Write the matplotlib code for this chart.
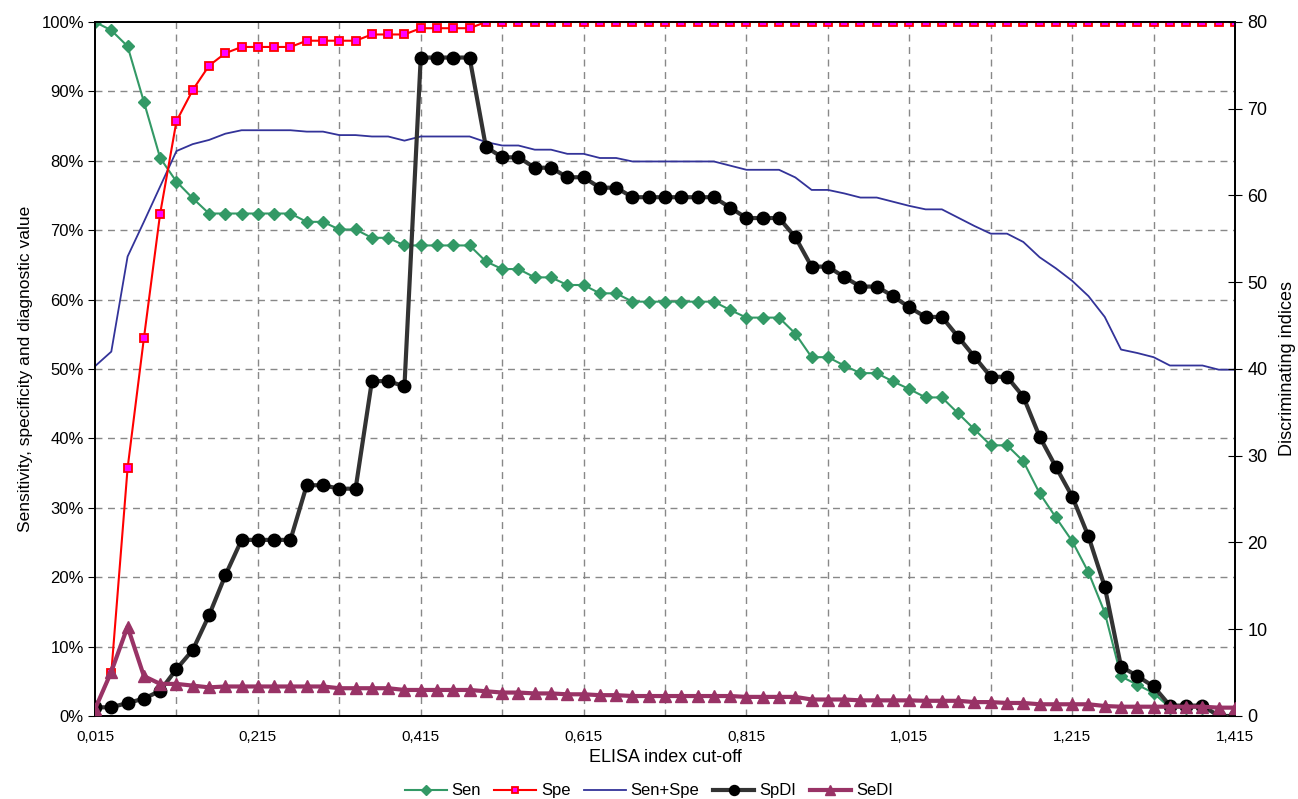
import numpy as np
import matplotlib
matplotlib.use("Agg")
import matplotlib.pyplot as plt
from matplotlib.ticker import FixedLocator, FuncFormatter

plt.rcParams['font.family'] = ['Liberation Sans', 'DejaVu Sans']

# cut-off values 0,015 ... 1,415 step 0,02
cutoffs = np.round(np.arange(0.015, 1.4151, 0.02), 3)

sen = [100, 98.8, 96.5, 88.5, 80.4, 77.0, 74.6,
       72.4, 72.4, 72.4, 72.4, 72.4, 72.4, 71.2, 71.2, 70.1, 70.1,
       68.9, 68.9, 67.8, 67.8, 67.8, 67.8, 67.8, 65.5, 64.4, 64.4,
       63.2, 63.2, 62.1, 62.1, 60.9, 60.9, 59.7, 59.7, 59.7, 59.7,
       59.7, 59.7, 58.5, 57.4, 57.4, 57.4, 55.1, 51.7, 51.7, 50.5,
       49.4, 49.4, 48.2, 47.1, 45.9, 45.9, 43.6, 41.3, 39.0, 39.0,
       36.7, 32.1, 28.6, 25.2, 20.7, 14.9, 5.7, 4.5, 3.3, 1.2, 1.2,
       1.2, 0, 0]
spe = [0.9, 6.2, 35.7, 54.4, 72.4, 85.7, 90.2, 93.7, 95.5,
       96.4, 96.4, 96.4, 96.4, 97.3, 97.3, 97.3, 97.3, 98.2, 98.2, 98.2,
       99.1, 99.1, 99.1, 99.1,
       100, 100, 100, 100, 100, 100, 100, 100, 100, 100, 100, 100, 100,
       100, 100, 100, 100, 100, 100, 100, 100, 100, 100, 100, 100, 100,
       100, 100, 100, 100, 100, 100, 100, 100, 100, 100, 100, 100, 100,
       100, 100, 100, 100, 100, 100, 100, 100]
sen_spe = [50.4, 52.5, 66.2, 71.2, 76.3, 81.4, 82.4, 83.0, 83.9,
           84.4, 84.4, 84.4, 84.4, 84.2, 84.2, 83.7, 83.7, 83.5, 83.5,
           82.9, 83.5, 83.5, 83.5, 83.5, 82.7, 82.2, 82.2, 81.6, 81.6,
           81.0, 81.0, 80.4, 80.4, 79.9, 79.9, 79.9, 79.9, 79.9, 79.9,
           79.3, 78.7, 78.7, 78.7, 77.6, 75.8, 75.8, 75.3, 74.7, 74.7,
           74.1, 73.5, 73.0, 73.0, 71.8, 70.6, 69.5, 69.5, 68.3, 66.1,
           64.5, 62.7, 60.5, 57.5, 52.8, 52.3, 51.7, 50.5, 50.5, 50.5,
           49.9, 49.9]
spdi = [1.0, 1.0, 1.5, 2.0, 2.9, 5.4, 7.6, 11.6, 16.2,
        20.3, 20.3, 20.3, 20.3, 26.6, 26.6, 26.2, 26.2, 38.6, 38.6, 38.0,
        75.9, 75.9, 75.9, 75.9, 65.6, 64.4, 64.4, 63.2, 63.2, 62.1, 62.1,
        60.9, 60.9, 59.8, 59.8, 59.8, 59.8, 59.8, 59.8, 58.6, 57.4, 57.4,
        57.4, 55.2, 51.8, 51.8, 50.6, 49.5, 49.5, 48.4, 47.1, 46.0, 46.0,
        43.7, 41.4, 39.1, 39.1, 36.8, 32.2, 28.7, 25.3, 20.7, 14.9, 5.7,
        4.6, 3.4, 1.2, 1.2, 1.2, 0, 0]
sedi = [0.8, 5.1, 10.3, 4.6, 3.7, 3.7, 3.5, 3.3,
        3.4, 3.4, 3.4, 3.4, 3.4, 3.4, 3.4, 3.2, 3.2, 3.2, 3.2,
        3.0, 3.0, 3.0, 3.0, 3.0, 2.85, 2.7, 2.7, 2.6, 2.6, 2.5, 2.5,
        2.4, 2.4, 2.3, 2.3, 2.3, 2.3, 2.3, 2.3, 2.3, 2.2, 2.2, 2.2, 2.2,
        1.9, 1.9, 1.9, 1.8, 1.8, 1.8, 1.8, 1.75, 1.75, 1.75, 1.6, 1.6,
        1.5, 1.5, 1.35, 1.35, 1.35, 1.35, 1.15, 1.07, 1.07, 1.07, 1.07,
        1.07, 1.07, 0.96, 0.96]

fig = plt.figure(figsize=(12.98, 7.99), dpi=100)
ax = fig.add_axes([0.0732, 0.1039, 0.8783, 0.8686])
ax2 = ax.twinx()

# left axis series
ax.plot(cutoffs, sen, color='#339966', lw=1.5, marker='D', ms=6.5,
        mec='#339966', mfc='#339966', label='Sen', zorder=3)
ax.plot(cutoffs, spe, color='#FF0000', lw=1.5, marker='s', ms=6,
        mec='#FF0000', mfc='#FF00FF', mew=1.3, label='Spe', zorder=3)
ax.plot(cutoffs, sen_spe, color='#333399', lw=1.3, label='Sen+Spe', zorder=2)

# right axis series
ax2.plot(cutoffs, spdi, color='#333333', lw=3, marker='o', ms=9,
         mec='black', mfc='black', label='SpDI', zorder=3)
ax2.plot(cutoffs, sedi, color='#993366', lw=3, marker='^', ms=9,
         mec='#993366', mfc='#993366', label='SeDI', zorder=4)

ax.set_xlim(0.015, 1.415)
ax.set_ylim(0, 100)
ax2.set_ylim(0, 80)

major_x = np.round(np.arange(0.015, 1.4151, 0.2), 3)
grid_x = np.round(np.arange(0.115, 1.4151, 0.1), 3)
ax.xaxis.set_major_locator(FixedLocator(major_x))
ax.xaxis.set_minor_locator(FixedLocator(grid_x))
ax.xaxis.set_major_formatter(FuncFormatter(lambda v, p: f"{v:.3f}".replace('.', ',')))
ax.set_yticks(np.arange(0, 101, 10))
ax.yaxis.set_major_formatter(FuncFormatter(lambda v, p: f"{int(v)}%"))
ax2.set_yticks(np.arange(0, 81, 10))

for v in grid_x:
    ax.axvline(v, color='#888888', lw=1, ls=(0, (5, 4)), zorder=1)
for v in range(10, 100, 10):
    ax.axhline(v, color='#888888', lw=1, ls=(0, (5, 4)), zorder=1)

ax.tick_params(axis='x', which='both', length=0, labelsize=11, pad=10)
ax.tick_params(axis='y', direction='out', length=5, labelsize=12, pad=3)
ax2.tick_params(axis='y', direction='inout', length=10, labelsize=13, pad=4)

for a in (ax, ax2):
    for s in a.spines.values():
        s.set_color('black')
        s.set_linewidth(1.3)

ax.set_xlabel('ELISA index cut-off', fontsize=13, labelpad=4)
ax.set_ylabel('Sensitivity, specificity and diagnostic value', fontsize=12.5, labelpad=6)
ax2.set_ylabel('Discriminating indices', fontsize=13, labelpad=8)

h1, l1 = ax.get_legend_handles_labels()
h2, l2 = ax2.get_legend_handles_labels()
fig.legend(h1 + h2, l1 + l2, loc='lower center', ncol=5, frameon=False,
           fontsize=12, bbox_to_anchor=(0.5, -0.018), handlelength=2.5,
           columnspacing=0.8, handletextpad=0.3, markerscale=0.8)

fig.savefig('out.png', dpi=100)
